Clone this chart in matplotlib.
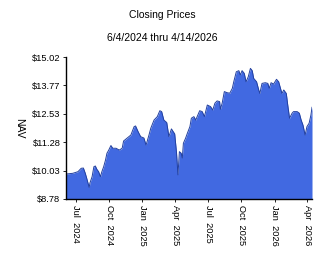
import numpy as np
import matplotlib
matplotlib.use("Agg")
import matplotlib.pyplot as plt
import matplotlib.dates as mdates

# closing prices, days counted from the first date
start = np.datetime64("2024-06-04")
days = [0, 2, 19, 33, 42, 48, 53, 57, 64, 66, 72, 77, 81, 85, 90, 95, 99, 104,
        109, 113, 118, 124, 129, 138, 147, 155, 159, 169, 179, 188, 192, 199,
        206, 215, 221, 229, 234, 243, 252, 259, 264, 270, 278, 284, 291, 300,
        305, 309, 313, 318, 321, 324, 330, 335, 342, 346, 353, 358, 362, 369,
        376, 382, 390, 399, 405, 411, 417, 424, 426, 431, 437, 445, 452, 459,
        463, 470, 477, 481, 486, 492, 497, 503, 509, 514, 518, 526, 532, 535,
        541, 550, 557, 561, 566, 573, 581, 587, 592, 596, 601, 608, 612, 617,
        624, 628, 638, 644, 649, 654, 660, 665, 671, 676, 679]
nav = [9.88, 9.88, 9.91, 9.98, 10.13, 10.14, 9.92, 9.70, 9.29, 9.48, 9.76,
       10.20, 10.23, 10.09, 9.98, 9.76, 9.98, 10.20, 10.49, 10.79, 10.93,
       11.13, 11.01, 11.01, 10.93, 11.01, 11.33, 11.46, 11.59, 11.96, 11.99,
       11.74, 11.52, 11.46, 11.15, 11.59, 11.89, 12.25, 12.40, 12.66, 12.62,
       12.25, 12.14, 11.52, 11.86, 11.64, 10.82, 9.84, 10.86, 10.79, 10.58,
       11.23, 11.45, 11.67, 11.96, 12.33, 12.40, 12.25, 12.40, 12.66, 12.62,
       12.40, 12.91, 12.84, 12.69, 12.99, 13.09, 13.06, 12.72, 12.99, 13.50,
       13.45, 13.43, 13.64, 13.93, 14.37, 14.42, 14.23, 14.42, 14.30, 13.93,
       14.15, 14.52, 14.42, 14.08, 13.93, 13.57, 13.42, 13.86, 13.89, 13.86,
       13.64, 13.89, 13.83, 14.04, 13.93, 13.64, 13.42, 13.57, 13.42, 12.91,
       12.33, 12.55, 12.62, 12.62, 12.55, 12.25, 12.03, 11.59, 11.96, 12.11,
       12.47, 12.81]

yticks = [8.78, 10.03, 11.28, 12.53, 13.77, 15.02]
xticks = ["2024-07-01", "2024-10-01", "2025-01-01", "2025-04-01",
          "2025-07-01", "2025-10-01", "2026-01-01", "2026-04-01"]

dates = start + np.array(days).astype("timedelta64[D]")

plt.rcParams["font.family"] = ["Liberation Sans", "DejaVu Sans"]

fig = plt.figure(figsize=(3.24, 2.67), dpi=100)
ax = fig.add_axes([0.2037, 0.2547, 0.7593, 0.5318])

ax.fill_between(dates, yticks[0], nav, color="#4169E1", lw=0)
ax.plot(dates, nav, color="#22409f", lw=0.7)

ax.set_ylim(yticks[0], yticks[-1])
ax.set_xlim(start, np.datetime64("2026-04-14"))
ax.set_yticks(yticks)
ax.set_yticklabels(["$%.2f" % v for v in yticks], fontsize=6.7)
ax.set_xticks([np.datetime64(d) for d in xticks])
ax.xaxis.set_major_formatter(mdates.DateFormatter("%b  %Y"))
for lab in ax.get_xticklabels():
    lab.set_rotation(270)
    lab.set_fontsize(6.7)
    lab.set_va("top")
    lab.set_ha("center")
ax.tick_params(axis="both", length=2, width=0.6, pad=2)
ax.spines["top"].set_visible(False)
ax.spines["right"].set_visible(False)
ax.spines["left"].set_linewidth(1)
ax.spines["bottom"].set_linewidth(1)

ax.set_ylabel("NAV", rotation=270, fontsize=7.5, va="center")
ax.yaxis.set_label_coords(-0.19, 0.5)

fig.text(0.5, 1 - 15 / 267, "Closing Prices", ha="center", va="center", fontsize=7.5)
fig.text(0.5, 1 - 38 / 267, "6/4/2024 thru 4/14/2026", ha="center", va="center", fontsize=7.5)

fig.savefig("out.png", dpi=100)
